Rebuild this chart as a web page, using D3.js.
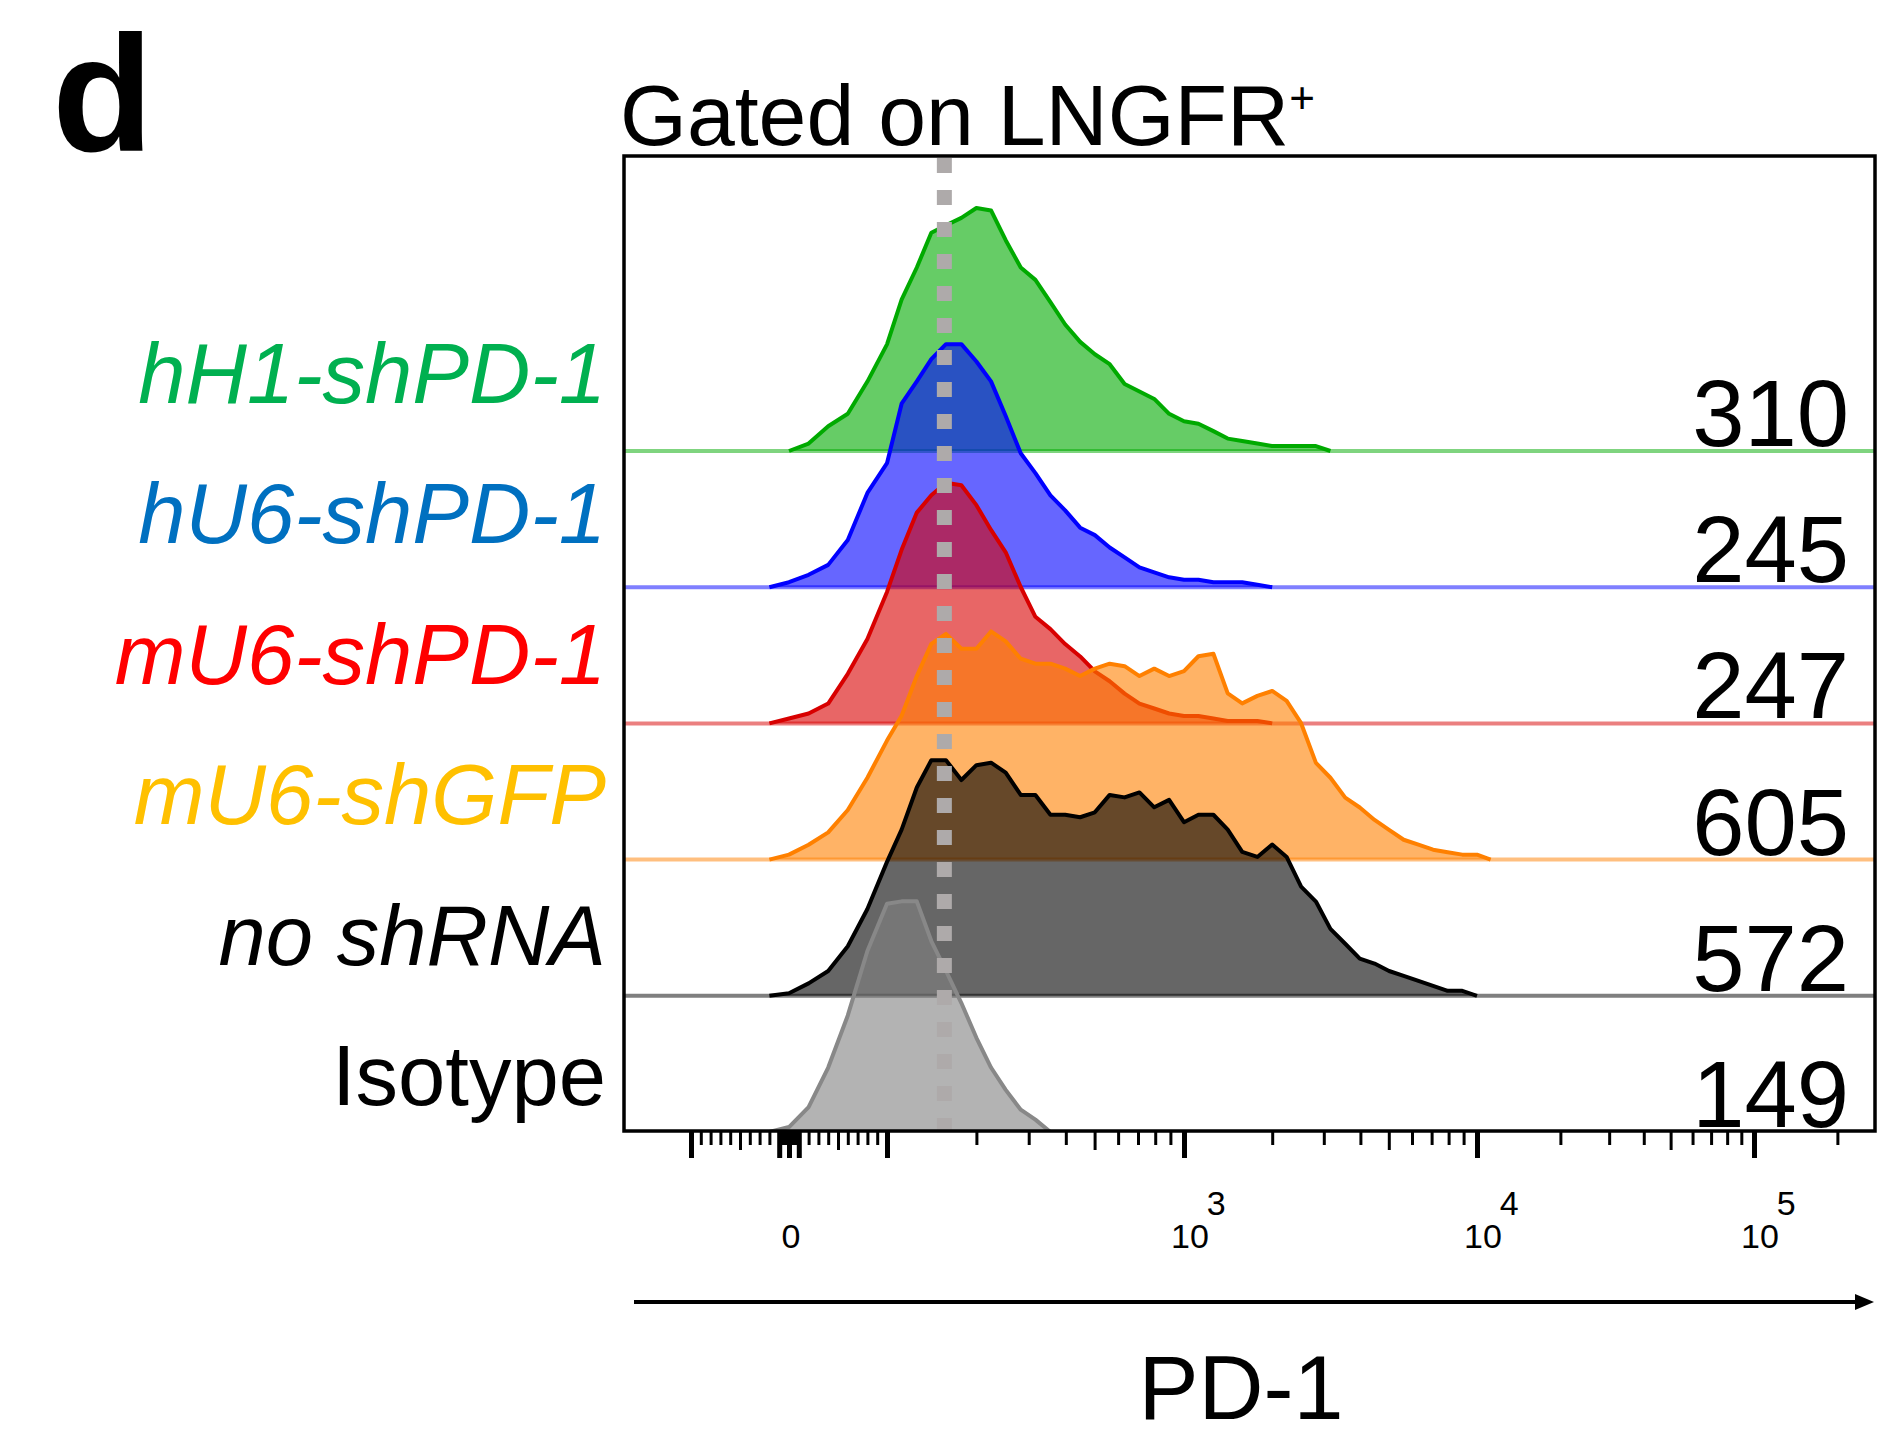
<!DOCTYPE html>
<html>
<head>
<meta charset="utf-8">
<script src="https://cdn.jsdelivr.net/npm/d3@7"></script>
<style>
  body { margin: 0; background: #fff; }
  svg { display: block; font-family: "Liberation Sans", Arial, sans-serif; }
</style>
</head>
<body>
<svg id="chart" width="1885" height="1437"></svg>
<script>
// PD-1 intensity bin centres shared by all histograms
const pd1Bins = [-40, -20, 0, 20, 40, 60, 80, 100,
  112, 126, 141, 158, 178, 200, 224, 251, 282, 316, 355, 398, 447, 501, 562, 631, 708, 794, 891, 1000,
  1120, 1260, 1410, 1580, 1780, 2000, 2240, 2510, 2820, 3160, 3550, 3980, 4470, 5010, 5620, 6310, 7080, 7940, 8910, 10000,
  11200, 12600, 14100, 15800];

const samples = ["hH1-shPD-1", "hU6-shPD-1", "mU6-shPD-1", "mU6-shGFP", "no shRNA", "Isotype"];

// % of mode per bin
const hH1shPD1 = [0,0,0,3,10,15,28,43,61,74,88,91,94,98,97,85,74,69,60,51,44,39,35,27,24,21,15,12,11,8,5,4,3,2,2,2,2,0,
  0,0,0,0,0,0,0,0,0,0,0,0,0,0];
const hU6shPD1 = [0,0,2,5,9,19,38,50,74,83,92,98,98,91,83,69,54,46,37,31,24,21,16,12,8,6,4,3,3,2,2,2,1,0,
  0,0,0,0,0,0,0,0,0,0,0,0,0,0,0,0,0,0];
const mU6shPD1 = [0,0,2,4,8,20,34,53,70,85,92,97,96,88,78,69,55,43,38,32,27,21,17,12,8,6,4,3,3,2,1,1,1,0,
  0,0,0,0,0,0,0,0,0,0,0,0,0,0,0,0,0,0];
const mU6shGFP = [0,0,2,6,11,20,33,48,58,74,87,91,85,85,92,88,81,79,79,77,74,77,79,78,74,77,74,76,82,83,
  67,63,66,68,64,55,39,33,25,21,16,12,8,6,4,3,2,2,0,0,0,0];
const noShRNA = [0,0,1,5,10,20,35,54,67,84,95,95,87,93,94,90,81,81,73,73,72,74,81,80,82,76,79,70,73,73,
  67,58,56,61,56,44,38,27,21,15,13,10,8,6,4,2,2,0,0,0,0,0];
const isotype = [0,0,2,10,26,47,73,92,93,93,77,65,52,38,26,17,9,5,0,
  0,0,0,0,0,0,0,0,0,0,0,0,0,0,0,0,0,0,0,0,0,0,0,0,0,0,0,0,0,0,0,0,0];

const seriesValues = [hH1shPD1, hU6shPD1, mU6shPD1, mU6shGFP, noShRNA, isotype];
const mfiValues = [310, 245, 247, 605, 572, 149];
const isotypeMarker = 156;

const majorTicks = [-100, -10, 0, 10, 100, 1000, 10000, 100000];
const midTicks = [-50, 50, 500, 5000, 50000];
const minorTicks = [-90, -80, -70, -60, -40, -30, -20, -8, -6, -4, -2, 2, 4, 6, 8,
  20, 30, 40, 60, 70, 80, 90, 200, 300, 400, 600, 700, 800, 900,
  2000, 3000, 4000, 6000, 7000, 8000, 9000, 20000, 30000, 40000, 60000, 70000, 80000, 90000, 200000];
const labelTicks = [0, 1000, 10000, 100000];
const labelExps = ["", "3", "4", "5"];

const lineColors = ["#00aa00", "#0000ff", "#d80000", "#ff8000", "#000000", "#888888"];
const fillColors = ["#00aa00", "#0000ff", "#d80000", "#ff8000", "#000000", "#808080"];
const labelColors = ["#00b050", "#0070c0", "#ff0000", "#ffc000", "#000000", "#000000"];

const box = { left: 624, right: 1875, top: 156, bottom: 1131 };

const svg = d3.select("#chart");

// biexponential-like display: linear around zero, log beyond 100
const disp = (v) => (Math.abs(v) <= 100 ? v / 100 : Math.sign(v) * (Math.log10(Math.abs(v)) - 1));

const x = d3.scaleLinear().domain([-1, 0, 1, 2, 3, 4]).range([691, 789, 887, 1184, 1477, 1754]);
const row = d3.scalePoint().domain(samples).range([451, 1132]);
const labelRow = d3.scalePoint().domain(samples).range([403, 1105]);
const h = d3.scaleLinear().domain([0, 100]).range([0, 248]);

svg.append("clipPath")
  .attr("id", "plotclip")
  .append("rect")
  .attr("x", box.left)
  .attr("y", box.top)
  .attr("width", box.right - box.left)
  .attr("height", box.bottom - box.top);

const plot = svg.append("g").attr("clip-path", "url(#plotclip)");

const area = d3.area()
  .x((d) => x(disp(d[0])))
  .y0(0)
  .y1((d) => -h(d[1]));

const line = d3.line()
  .x((d) => x(disp(d[0])))
  .y((d) => -h(d[1]));

samples.forEach((s, i) => {
  const pts = pd1Bins.map((b, j) => [b, seriesValues[i][j]]);
  let first = pts.findIndex((d) => d[1] > 0);
  let last = pts.length - 1;
  while (last > 0 && pts[last][1] === 0) last--;
  const outline = pts.slice(Math.max(0, first - 1), Math.min(pts.length, last + 2));

  const g = plot.append("g").attr("transform", `translate(0,${row(s)})`);

  g.append("line")
    .attr("x1", box.left)
    .attr("x2", box.right)
    .attr("y1", 0)
    .attr("y2", 0)
    .attr("stroke", lineColors[i])
    .attr("stroke-opacity", 0.5)
    .attr("stroke-width", 4);

  g.append("path")
    .datum(outline)
    .attr("d", area)
    .attr("fill", fillColors[i])
    .attr("fill-opacity", 0.6);

  g.append("path")
    .datum(outline)
    .attr("d", line)
    .attr("fill", "none")
    .attr("stroke", lineColors[i])
    .attr("stroke-width", 4)
    .attr("stroke-linejoin", "round");
});

// dashed marker at isotype level
svg.append("line")
  .attr("x1", x(disp(isotypeMarker)))
  .attr("x2", x(disp(isotypeMarker)))
  .attr("y1", 158)
  .attr("y2", box.bottom)
  .attr("stroke", "#aeaaaa")
  .attr("stroke-width", 15)
  .attr("stroke-dasharray", "15 17");

// frame
svg.append("rect")
  .attr("x", box.left)
  .attr("y", box.top)
  .attr("width", box.right - box.left)
  .attr("height", box.bottom - box.top)
  .attr("fill", "none")
  .attr("stroke", "#000")
  .attr("stroke-width", 3.5);

// ticks
function tickLayer(values, size, width) {
  const g = svg.append("g")
    .attr("transform", `translate(0,${box.bottom + 1})`)
    .call(d3.axisBottom(x).tickValues(values.map(disp)).tickSize(size).tickFormat(""));
  g.select(".domain").remove();
  g.selectAll(".tick line").attr("stroke", "#000").attr("stroke-width", width);
}
tickLayer(minorTicks, 13, 3);
tickLayer(midTicks, 18, 3);
tickLayer(majorTicks, 26, 5);

// tick labels
labelTicks.forEach((v, i) => {
  const px = x(disp(v));
  if (labelExps[i] === "") {
    svg.append("text")
      .attr("x", px + 2)
      .attr("y", 1248)
      .attr("text-anchor", "middle")
      .style("font-size", "34px")
      .text("0");
  } else {
    const t = svg.append("text")
      .attr("x", px - 13)
      .attr("y", 1248)
      .style("font-size", "34px");
    t.append("tspan").text("10");
    t.append("tspan").attr("dy", -33).attr("dx", -2).text(labelExps[i]);
  }
});

// sample labels
svg.selectAll(".sample-label")
  .data(samples)
  .join("text")
  .attr("class", "sample-label")
  .attr("x", 606)
  .attr("y", (d) => labelRow(d))
  .attr("text-anchor", "end")
  .style("font-size", "85px")
  .style("font-style", (d) => (d === "Isotype" ? "normal" : "italic"))
  .attr("fill", (d, i) => labelColors[i])
  .text((d) => d);

// MFI values
svg.selectAll(".mfi")
  .data(mfiValues)
  .join("text")
  .attr("class", "mfi")
  .attr("x", 1849)
  .attr("y", (d, i) => row(samples[i]) - 5)
  .attr("text-anchor", "end")
  .style("font-size", "94px")
  .text((d) => d);

// panel letter and title
svg.append("text")
  .attr("x", 52)
  .attr("y", 151)
  .style("font-size", "166px")
  .style("font-weight", "bold")
  .text("d");

const title = svg.append("text")
  .attr("x", 620)
  .attr("y", 145)
  .style("font-size", "86px")
  .text("Gated on LNGFR");
title.append("tspan").attr("dy", -32).style("font-size", "44px").text("+");

// axis arrow and name
svg.append("line")
  .attr("x1", 634)
  .attr("x2", 1858)
  .attr("y1", 1302)
  .attr("y2", 1302)
  .attr("stroke", "#000")
  .attr("stroke-width", 4);
svg.append("path")
  .attr("d", "M1855,1294L1874,1302L1855,1310Z")
  .attr("fill", "#000");

svg.append("text")
  .attr("x", 1241)
  .attr("y", 1419)
  .attr("text-anchor", "middle")
  .style("font-size", "90px")
  .text("PD-1");
</script>
</body>
</html>
